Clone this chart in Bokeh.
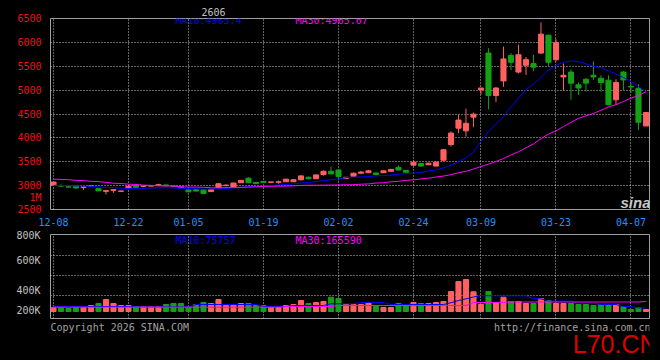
from bokeh.plotting import figure
from bokeh.models import Range1d, FixedTicker, Label, ColumnDataSource, GlobalInlineStyleSheet
from bokeh.layouts import column
from bokeh.embed import file_html
from bokeh.resources import INLINE

# ---------------- data ----------------
date_tick_idx = [0, 10, 18, 28, 38, 48, 57, 67, 77]
date_labels = ["12-08", "12-22", "01-05", "01-19", "02-02", "02-24", "03-09", "03-23", "04-07"]
price_ticks = [2500, 3000, 3500, 4000, 4500, 5000, 5500, 6000, 6500]
unit_tick = [2746]
unit_label = ["1M"]

opens = [3007, 3000, 2975, 2990, 2960, 2985, 2937, 2880, 2900, 2880,
         2937, 3007, 2985, 2990, 3010, 3015, 2990, 2975, 2910, 2915,
         2910, 2875, 2958, 3000, 2972, 3060, 3156, 3068, 3090, 3070,
         3070, 3081, 3081, 3122, 3177, 3143, 3232, 3300, 3327, 3150,
         3197, 3260, 3270, 3265, 3270, 3300, 3382, 3320, 3429, 3464,
         3437, 3409, 3532, 3860, 4203, 4147, 4434, 5010, 5776, 4886,
         5193, 5727, 5378, 5522, 5556, 5776, 6151, 5638, 5276, 5378,
         5111, 5228, 5310, 5249, 5208, 4797, 5378, 5075, 5037, 4250]
highs = [3090, 3030, 2985, 3005, 2980, 3000, 2945, 2915, 2920, 2895,
         2990, 3015, 3000, 3002, 3040, 3020, 2995, 2980, 2915, 2920,
         2915, 2920, 3045, 3030, 3060, 3115, 3175, 3072, 3095, 3082,
         3105, 3140, 3128, 3215, 3185, 3230, 3320, 3402, 3350, 3180,
         3275, 3310, 3330, 3270, 3315, 3345, 3420, 3330, 3530, 3470,
         3475, 3515, 3760, 4135, 4490, 4613, 4531, 5044, 5878, 5070,
         5912, 5776, 5953, 5694, 5741, 6418, 6151, 6069, 5556, 5433,
         5160, 5255, 5604, 5310, 5310, 5228, 5399, 5146, 5126, 4531]
lows = [2995, 2970, 2960, 2935, 2910, 2980, 2885, 2815, 2850, 2875,
        2930, 2960, 2980, 2985, 2995, 2990, 2975, 2945, 2865, 2880,
        2830, 2870, 2955, 2985, 2965, 3055, 3055, 3035, 3060, 3066,
        3040, 3075, 3078, 3110, 3135, 3138, 3210, 3240, 3110, 3145,
        3190, 3240, 3265, 3228, 3265, 3295, 3320, 3275, 3420, 3400,
        3432, 3405, 3525, 3819, 4100, 4024, 4223, 4906, 4598, 4750,
        5070, 5419, 5351, 5316, 5399, 5762, 5501, 5597, 4988, 4797,
        4900, 4968, 5214, 4968, 4680, 4695, 4988, 4941, 4168, 4250]
closes = [3074, 2990, 2970, 2950, 2975, 2995, 2890, 2895, 2915, 2888,
          2986, 2966, 2993, 2998, 3020, 2995, 2980, 2950, 2870, 2885,
          2835, 2915, 3040, 3010, 3054, 3110, 3060, 3040, 3065, 3078,
          3080, 3136, 3122, 3204, 3143, 3224, 3300, 3245, 3191, 3175,
          3259, 3285, 3310, 3232, 3310, 3340, 3327, 3280, 3491, 3409,
          3470, 3491, 3751, 4100, 4373, 4305, 4496, 5044, 4886, 5044,
          5653, 5583, 5741, 5638, 5481, 6172, 5583, 5994, 5310, 5146,
          5044, 5146, 5276, 5160, 4695, 5160, 5214, 5065, 4326, 4531]
ma10 = [3005, 3005, 3000, 2995, 2990, 2985, 2975, 2965, 2955, 2945,
        2940, 2935, 2940, 2950, 2955, 2955, 2950, 2945, 2937, 2935,
        2930, 2930, 2935, 2940, 2950, 2965, 2980, 2986, 2990, 3000,
        3015, 3025, 3035, 3055, 3065, 3085, 3105, 3125, 3140, 3165,
        3177, 3180, 3190, 3205, 3211, 3220, 3240, 3250, 3260, 3280,
        3305, 3330, 3370, 3430, 3500, 3580, 3700, 3930, 4135, 4285,
        4442, 4647, 4832, 5009, 5126, 5263, 5419, 5522, 5583, 5611,
        5597, 5550, 5501, 5468, 5406, 5337, 5263, 5181, 5078, 4965]
ma30 = [3135, 3130, 3125, 3110, 3105, 3090, 3085, 3068, 3050, 3045,
        3030, 3025, 3010, 3005, 2995, 2993, 2990, 2975, 2970, 2968,
        2965, 2955, 2955, 2958, 2962, 2965, 2968, 2975, 2985, 2986,
        2988, 2990, 2995, 3005, 3007, 3008, 3010, 3012, 3015, 3018,
        3020, 3030, 3035, 3054, 3060, 3080, 3090, 3110, 3122, 3140,
        3156, 3180, 3200, 3230, 3270, 3300, 3347, 3400, 3450, 3505,
        3567, 3642, 3710, 3792, 3874, 3983, 4080, 4147, 4237, 4326,
        4408, 4463, 4510, 4578, 4647, 4695, 4763, 4832, 4886, 4965]
volumes = [77000, 77000, 70000, 77000, 77000, 100000, 120000, 160000, 120000, 100000,
           100000, 90000, 90000, 90000, 90000, 110000, 120000, 120000, 90000, 110000,
           130000, 120000, 160000, 100000, 110000, 120000, 120000, 100000, 100000, 80000,
           80000, 100000, 110000, 150000, 120000, 130000, 140000, 183000, 170000, 110000,
           110000, 110000, 130000, 90000, 80000, 80000, 120000, 110000, 130000, 120000,
           120000, 130000, 140000, 240000, 340000, 360000, 237000, 110000, 240000, 130000,
           183000, 140000, 140000, 120000, 120000, 170000, 150000, 120000, 120000, 120000,
           110000, 110000, 100000, 110000, 110000, 110000, 90000, 60000, 80000, 60000]
vol_ma10 = [90000, 90000, 90000, 90000, 90000, 90000, 90000, 90000, 90000, 90000,
            90000, 86000, 86000, 86000, 86000, 86000, 86000, 86000, 86000, 110000,
            110000, 110000, 110000, 110000, 110000, 110000, 110000, 110000, 90000, 90000,
            90000, 90000, 100000, 100000, 100000, 100000, 100000, 117000, 117000, 117000,
            117000, 130000, 130000, 130000, 130000, 110000, 110000, 110000, 110000, 110000,
            110000, 110000, 110000, 128000, 150000, 167000, 185000, 200000, 197000, 197000,
            197000, 197000, 197000, 197000, 167000, 167000, 143000, 143000, 143000, 143000,
            123000, 123000, 123000, 110000, 110000, 110000, 90000, 90000, 76000, 76000]
vol_ma30 = [83000, 83000, 83000, 83000, 83000, 83000, 83000, 83000, 83000, 83000,
            83000, 83000, 83000, 83000, 83000, 83000, 83000, 83000, 83000, 83000,
            83000, 83000, 83000, 83000, 83000, 83000, 83000, 83000, 83000, 83000,
            83000, 90000, 90000, 90000, 90000, 90000, 90000, 90000, 100000, 100000,
            100000, 100000, 100000, 100000, 100000, 100000, 100000, 100000, 100000, 100000,
            100000, 100000, 100000, 100000, 100000, 100000, 130000, 130000, 130000, 130000,
            130000, 135000, 135000, 135000, 135000, 135000, 135000, 135000, 135000, 135000,
            135000, 135000, 135000, 135000, 135000, 135000, 135000, 135000, 135000, 140000]
vol_tick_vals = [805000, 550000, 250000, 50000]
vol_tick_labels = ["800K", "600K", "400K", "200K"]
vol_grid_vals = [200000, 400000, 600000]
vol_floor = 40000

# ---------------- styles ----------------
RED = "#ff6060"
GREEN = "#14a014"
MONO = "DejaVu Sans Mono"
GRID = "#c8c8c8"
W = 660

idx = list(range(len(closes)))
colors = [RED if c >= o else GREEN for o, c in zip(opens, closes)]
src = ColumnDataSource(dict(
    x=idx, h=highs, l=lows,
    top=[max(o, c) for o, c in zip(opens, closes)],
    bottom=[min(o, c) for o, c in zip(opens, closes)],
    color=colors, vol=volumes, ma10=ma10, ma30=ma30,
    vma10=vol_ma10, vma30=vol_ma30))

xr = Range1d(-0.4, 79.47)


def style_axis(ax, color, standoff):
    ax.axis_line_color = None
    ax.major_tick_line_color = None
    ax.minor_tick_line_color = None
    ax.major_label_text_font = MONO
    ax.major_label_text_font_size = "10px"
    ax.major_label_text_color = color
    ax.major_label_standoff = standoff


def base_fig(height, yr, top, bottom):
    f = figure(width=W, height=height, x_range=xr, y_range=yr,
               output_backend="svg", toolbar_location=None,
               min_border_left=50, min_border_right=11,
               min_border_top=top, min_border_bottom=bottom,
               background_fill_color="black", border_fill_color="black",
               outline_line_color="#a0a0a0", outline_line_width=1)
    f.xgrid.grid_line_color = GRID
    f.xgrid.grid_line_dash = "1 2"
    f.ygrid.grid_line_color = GRID
    f.ygrid.grid_line_dash = "1 2"
    return f


def txt(fig, x, y, text, color, align="left", baseline="alphabetic",
        font=MONO, size="10px", style="normal"):
    fig.add_layout(Label(x=x, y=y, x_units="screen", y_units="screen", text=text,
                         text_color=color, text_align=align, text_baseline=baseline,
                         text_font=font, text_font_size=size, text_font_style=style))


# ---------------- price panel ----------------
p = base_fig(228, Range1d(2500, 6500), 18, 15)
p.title.text = "2606"
p.title.text_font = MONO
p.title.text_font_size = "10px"
p.title.text_font_style = "normal"
p.title.text_color = "#c0c0c0"
p.title.align = "left"
p.title.offset = 151
p.title.standoff = 5

p.yaxis.ticker = FixedTicker(ticks=price_ticks + unit_tick)
p.yaxis.major_label_overrides = dict(zip(unit_tick, unit_label))
style_axis(p.yaxis[0], "#ee1111", 3)
p.ygrid.ticker = FixedTicker(ticks=price_ticks)

p.xaxis.ticker = FixedTicker(ticks=date_tick_idx)
p.xaxis.major_label_overrides = dict(zip(date_tick_idx, date_labels))
style_axis(p.xaxis[0], "#1e90ff", 2)

p.segment(x0="x", y0="h", x1="x", y1="l", color="color", line_width=1, source=src)
p.vbar(x="x", width=0.68, top="top", bottom="bottom", fill_color="color",
       line_color="color", line_width=1, source=src)
p.line(x="x", y="ma10", color="#0000ff", line_width=1, source=src)
p.line(x="x", y="ma30", color="#ff00ff", line_width=1, source=src)

txt(p, 125, 195, "MA10:4965.4", "#0000ff", baseline="top")
txt(p, 245, 195, "MA30:4965.07", "#ff00ff", baseline="top")
txt(p, 600, 7, "sina", "#c8c8c8", align="right", font="Liberation Sans",
    size="15px", style="bold italic")

# ---------------- volume panel ----------------
v = base_fig(91, Range1d(-30000, 810000), 6, 1)
v.xaxis.visible = False
v.xgrid.ticker = FixedTicker(ticks=date_tick_idx)
v.ygrid.ticker = FixedTicker(ticks=vol_grid_vals)
v.yaxis.ticker = FixedTicker(ticks=vol_tick_vals)
v.yaxis.major_label_overrides = dict(zip(vol_tick_vals, vol_tick_labels))
style_axis(v.yaxis[0], "#c0c0c0", 4)

v.vbar(x="x", width=0.68, top="vol", bottom=vol_floor, fill_color="color",
       line_color="color", line_width=1, source=src)
v.line(x="x", y="vma10", color="#0000ff", line_width=1, source=src)
v.line(x="x", y="vma30", color="#ff00ff", line_width=1, source=src)

txt(v, 125, 84, "MA10:75757", "#0000ff", baseline="top")
txt(v, 245, 84, "MA30:165590", "#ff00ff", baseline="top")

# ---------------- footer ----------------
foot = figure(width=W, height=41, x_range=Range1d(0, 1), y_range=Range1d(0, 1),
              title=None, output_backend="svg", toolbar_location=None,
              min_border_left=50, min_border_right=2, min_border_top=0,
              min_border_bottom=0,
              x_axis_location=None, y_axis_location=None,
              background_fill_color="black", border_fill_color="black",
              outline_line_color=None)
foot.grid.visible = False
txt(foot, 0, 33, "Copyright 2026 SINA.COM", "#a0a0a0")
txt(foot, 600, 33, "http://finance.sina.com.cn", "#a0a0a0", align="right")
txt(foot, 607, 17, "L70.CN", "#dd0000", align="right",
    font="Liberation Sans", size="25px")

layout = column(p, v, foot, spacing=0,
                stylesheets=[GlobalInlineStyleSheet(css="html, body { background: #000000; }")])

open("out.html", "w").write(file_html(layout, INLINE))
